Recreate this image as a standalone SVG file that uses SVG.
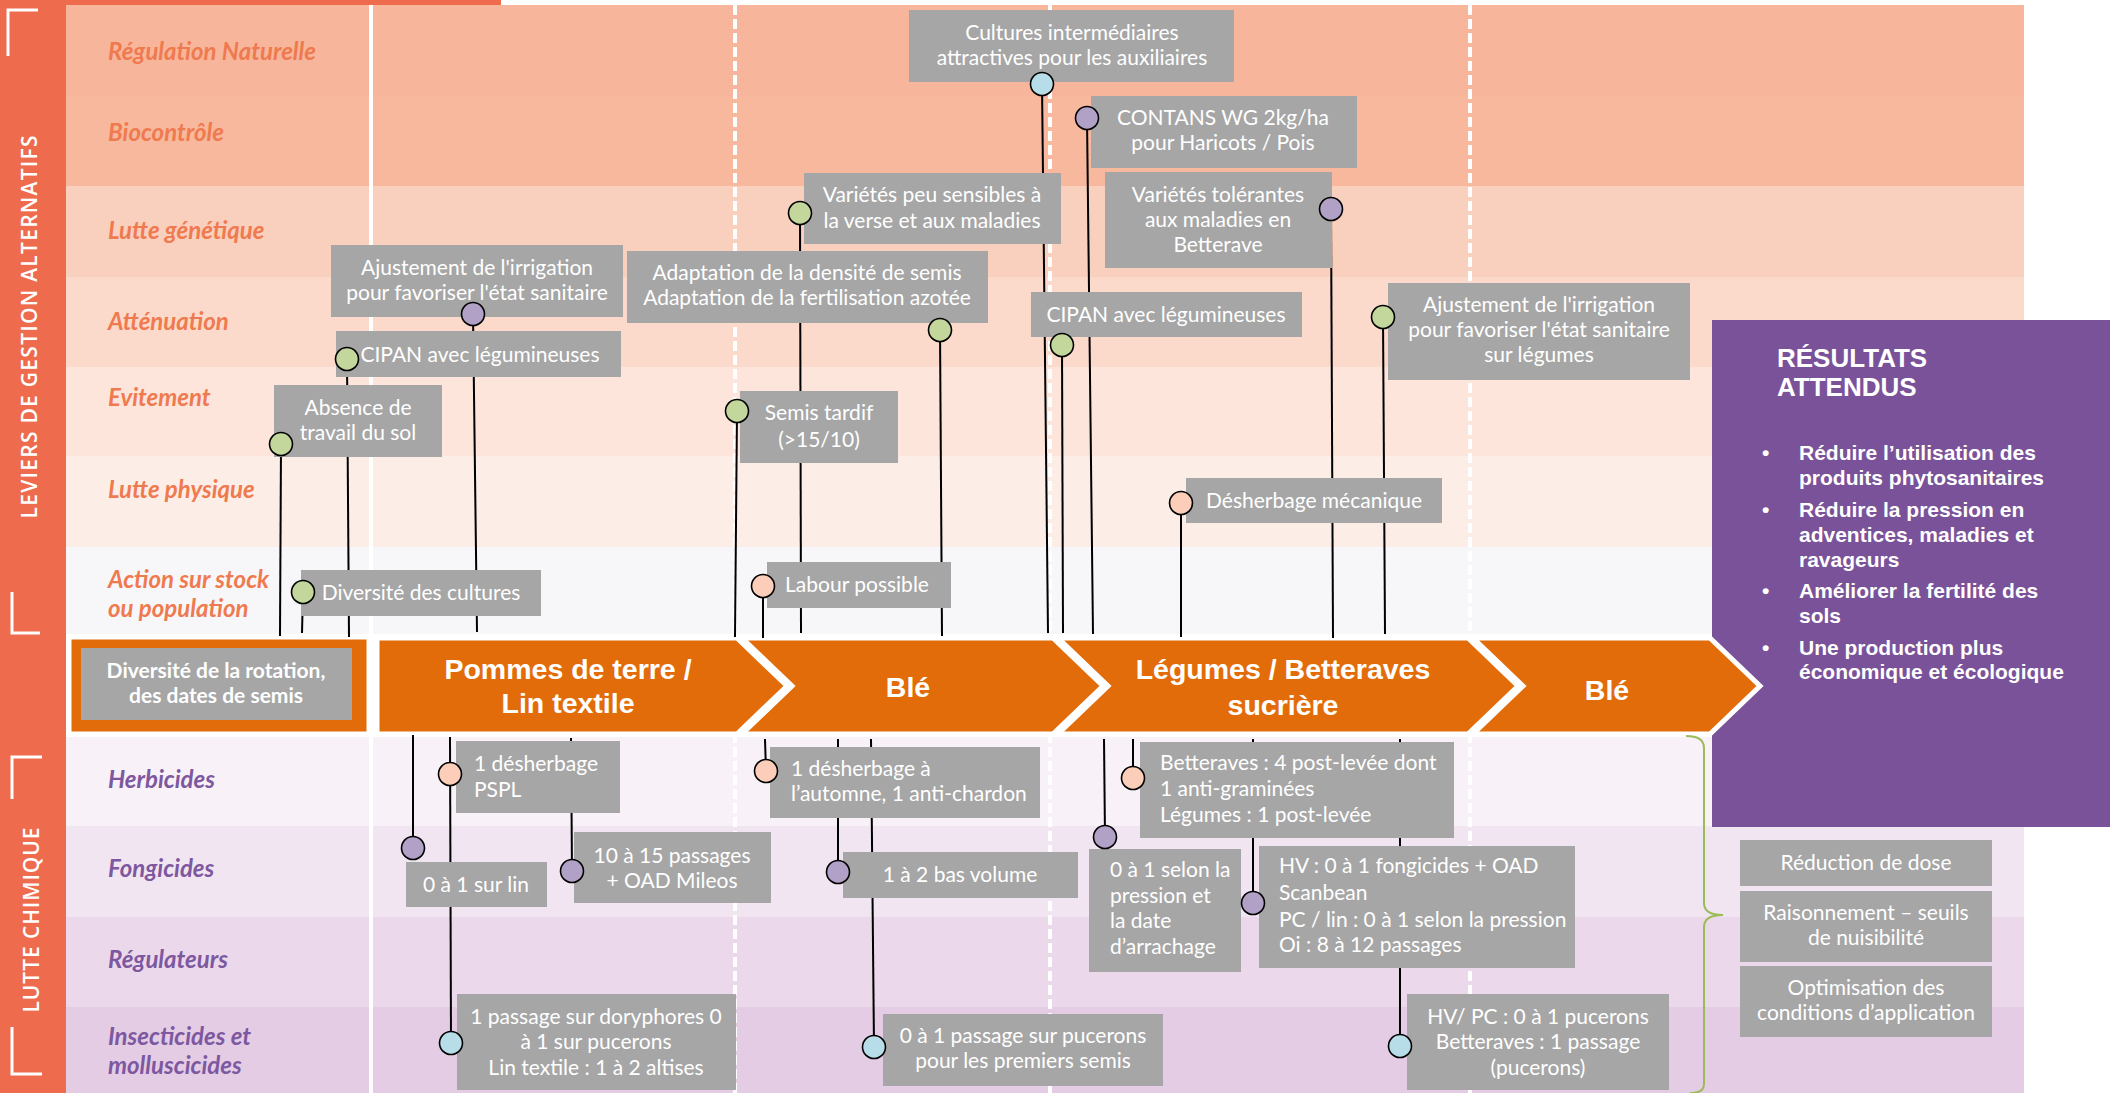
<svg xmlns="http://www.w3.org/2000/svg" width="2110" height="1093" viewBox="0 0 2110 1093">
<defs>
<style>
.lab{font-family:Lato,"Liberation Sans",sans-serif;font-style:italic;font-weight:bold;font-size:24px}
.lu{fill:#EF7A4F}
.ll{fill:#7D58A0}
.box{fill:#A6A6A6}
.bt{font-family:Lato,"Liberation Sans",sans-serif;font-size:21px;fill:#fff}
.c{text-anchor:middle}
.dot{stroke:#000;stroke-width:1.6}
.g{fill:#C3D69B}
.p{fill:#B2A1C7}
.b{fill:#B7DEE8}
.s{fill:#FCCDB8}
.conn line{stroke:#000;stroke-width:2}
.chev{fill:#E36C0A;stroke:#fff;stroke-width:5}
.ct{font-family:"Liberation Sans",Arial,sans-serif;font-weight:bold;font-size:28.5px;fill:#fff;text-anchor:middle}
.sep{stroke:#fff;stroke-width:4}
.dash{stroke-dasharray:10 4}
.side{font-family:"Open Sans","Liberation Sans",sans-serif;font-weight:600;font-size:21px;fill:#fff;text-anchor:middle}
.corner{fill:none;stroke:#fff;stroke-width:3}
.res{font-family:"Liberation Sans",Arial,sans-serif;font-weight:bold;fill:#fff}
</style>
</defs>

<g id="background">
<rect x="0" y="0" width="2110" height="1093" fill="#fff"/>
<rect x="66" y="5" width="1958" height="91" fill="#F7B69B"/>
<rect x="66" y="96" width="1958" height="90" fill="#F8B89D"/>
<rect x="66" y="186" width="1958" height="91" fill="#F9CFBD"/>
<rect x="66" y="277" width="1958" height="90" fill="#FBDACB"/>
<rect x="66" y="367" width="1958" height="89" fill="#FDE5DC"/>
<rect x="66" y="456" width="1958" height="91" fill="#FCEEE7"/>
<rect x="66" y="547" width="1958" height="87" fill="#F7F7F9"/>
<rect x="66" y="737" width="1958" height="89" fill="#F8F1F7"/>
<rect x="66" y="826" width="1958" height="91" fill="#F2E5F2"/>
<rect x="66" y="917" width="1958" height="90" fill="#EBD9EB"/>
<rect x="66" y="1007" width="1958" height="86" fill="#E4CCE4"/>
<rect x="0" y="0" width="66" height="1093" fill="#EE6B4D"/>
<rect x="0" y="0" width="501" height="5" fill="#EE6B4D"/>
<line class="sep" x1="371" y1="5" x2="371" y2="1093"/>
<line class="sep dash" x1="735" y1="5" x2="735" y2="1093"/>
<line class="sep dash" x1="1050" y1="5" x2="1050" y2="1093"/>
<line class="sep dash" x1="1470" y1="5" x2="1470" y2="1093"/>
<rect x="66" y="634" width="1646" height="103" fill="#fff"/>
</g>

<g id="side-labels">
<text class="side" transform="translate(37,327) rotate(-90)" textLength="383" lengthAdjust="spacing">LEVIERS DE GESTION ALTERNATIFS</text>
<path class="corner" d="M8,56 V10 H38"/>
<path class="corner" d="M12,592 V633 H40"/>
<text class="side" transform="translate(39,920) rotate(-90)" textLength="185" lengthAdjust="spacing">LUTTE CHIMIQUE</text>
<path class="corner" d="M12,799 V757 H42"/>
<path class="corner" d="M12,1027 V1074 H42"/>
</g>

<g id="row-labels" class="lab">
<text class="lu" x="108" y="60">Régulation Naturelle</text>
<text class="lu" x="108" y="141">Biocontrôle</text>
<text class="lu" x="108" y="239">Lutte génétique</text>
<text class="lu" x="108" y="330">Atténuation</text>
<text class="lu" x="108" y="406">Evitement</text>
<text class="lu" x="108" y="498">Lutte physique</text>
<text class="lu" x="108" y="588">Action sur stock</text>
<text class="lu" x="108" y="617">ou population</text>
<text class="ll" x="108" y="788">Herbicides</text>
<text class="ll" x="108" y="877">Fongicides</text>
<text class="ll" x="108" y="968">Régulateurs</text>
<text class="ll" x="108" y="1045">Insecticides et</text>
<text class="ll" x="108" y="1074">molluscicides</text>
</g>

<g id="resultats">
<rect x="1712" y="320" width="398" height="507" fill="#7A5299"/>
<text class="res" font-size="26" x="1777" y="367">RÉSULTATS</text>
<text class="res" font-size="26" x="1777" y="396">ATTENDUS</text>
<g class="res" font-size="21">
<text x="1762" y="460">•</text>
<text x="1799" y="460">Réduire l’utilisation des</text>
<text x="1799" y="485">produits phytosanitaires</text>
<text x="1762" y="517">•</text>
<text x="1799" y="517">Réduire la pression en</text>
<text x="1799" y="542">adventices, maladies et</text>
<text x="1799" y="567">ravageurs</text>
<text x="1762" y="598">•</text>
<text x="1799" y="598">Améliorer la fertilité des</text>
<text x="1799" y="623">sols</text>
<text x="1762" y="655">•</text>
<text x="1799" y="655">Une production plus</text>
<text x="1799" y="679">économique et écologique</text>
</g>
</g>

<g id="timeline">
<g id="rotation">
<rect x="70" y="638" width="298" height="95" fill="#E36C0A" stroke="#fff" stroke-width="3"/>
<rect x="81" y="648" width="271" height="72" class="box"/>
<text class="bt c" font-weight="bold" x="216"><tspan x="216" y="678">Diversité de la rotation,</tspan><tspan x="216" y="703">des dates de semis</tspan></text>
</g>
<g id="pommes">
<path class="chev" d="M377,638 H737 L787,686 L737,734 H377 Z"/>
<text class="ct"><tspan x="568" y="679">Pommes de terre /</tspan><tspan x="568" y="713">Lin textile</tspan></text>
</g>
<g id="ble1">
<path class="chev" d="M742,638 H1053 L1103,686 L1053,734 H742 L792,686 Z"/>
<text class="ct" x="908" y="697">Blé</text>
</g>
<g id="legumes">
<path class="chev" d="M1058,638 H1468 L1518,686 L1468,734 H1058 L1108,686 Z"/>
<text class="ct"><tspan x="1283" y="679">Légumes / Betteraves</tspan><tspan x="1283" y="715">sucrière</tspan></text>
</g>
<g id="ble2">
<path class="chev" d="M1473,638 H1710 L1760,686 L1710,734 H1473 L1523,686 Z"/>
<text class="ct" x="1607" y="700">Blé</text>
</g>
</g>

<g id="connectors" class="conn">
<line x1="281" y1="444" x2="280" y2="636"/>
<line x1="347" y1="359" x2="349" y2="637"/>
<line x1="303" y1="592" x2="302" y2="633"/>
<line x1="473" y1="314" x2="477" y2="632"/>
<line x1="737" y1="411" x2="735" y2="637"/>
<line x1="763" y1="586" x2="763" y2="638"/>
<line x1="800" y1="213" x2="801" y2="633"/>
<line x1="940" y1="330" x2="942" y2="636"/>
<line x1="1042" y1="84" x2="1048" y2="633"/>
<line x1="1062" y1="345" x2="1063" y2="633"/>
<line x1="1087" y1="118" x2="1093" y2="634"/>
<line x1="1181" y1="503" x2="1181" y2="637"/>
<line x1="1331" y1="209" x2="1333" y2="638"/>
<line x1="1383" y1="317" x2="1385" y2="634"/>
<line x1="413" y1="735" x2="413" y2="848"/>
<line x1="450" y1="737" x2="451" y2="1043"/>
<line x1="571" y1="738" x2="572" y2="871"/>
<line x1="765" y1="739" x2="766" y2="771"/>
<line x1="838" y1="739" x2="838" y2="872"/>
<line x1="871" y1="739" x2="874" y2="1047"/>
<line x1="1104" y1="739" x2="1105" y2="837"/>
<line x1="1133" y1="739" x2="1133" y2="778"/>
<line x1="1253" y1="739" x2="1253" y2="903"/>
<line x1="1400" y1="739" x2="1400" y2="1046"/>
<path d="M1686,736 Q1704,736 1704,748 L1704,903 Q1704,915 1723,915 Q1704,915 1704,927 L1704,1084 Q1704,1093 1690,1093" fill="none" stroke="#9BBB59" stroke-width="2"/>
</g>

<g id="n-cultures">
<rect class="box" x="909" y="10" width="325" height="72"/>
<text class="bt c"><tspan x="1072" y="40">Cultures intermédiaires</tspan><tspan x="1072" y="65">attractives pour les auxiliaires</tspan></text>
<circle class="dot b" cx="1042" cy="84" r="11.5"/>
</g>
<g id="n-contans">
<rect class="box" x="1091" y="96" width="266" height="72"/>
<text class="bt c"><tspan x="1223" y="125">CONTANS WG 2kg/ha</tspan><tspan x="1223" y="150">pour Haricots / Pois</tspan></text>
<circle class="dot p" cx="1087" cy="118" r="11.5"/>
</g>
<g id="n-varietes-peu">
<rect class="box" x="804" y="173" width="257" height="71"/>
<text class="bt c"><tspan x="932" y="202">Variétés peu sensibles à</tspan><tspan x="932" y="228">la verse et aux maladies</tspan></text>
<circle class="dot g" cx="800" cy="213" r="11.5"/>
</g>
<g id="n-varietes-tol">
<rect class="box" x="1105" y="172" width="227" height="96"/>
<text class="bt c"><tspan x="1218" y="202">Variétés tolérantes</tspan><tspan x="1218" y="227">aux maladies en</tspan><tspan x="1218" y="252">Betterave</tspan></text>
<circle class="dot p" cx="1331" cy="209" r="11.5"/>
</g>
<g id="n-ajust-1">
<rect class="box" x="331" y="245" width="292" height="72"/>
<text class="bt c"><tspan x="477" y="275">Ajustement de l'irrigation</tspan><tspan x="477" y="300">pour favoriser l'état sanitaire</tspan></text>
<circle class="dot p" cx="473" cy="314" r="11.5"/>
</g>
<g id="n-adaptation">
<rect class="box" x="627" y="251" width="361" height="72"/>
<text class="bt c"><tspan x="807" y="280">Adaptation de la densité de semis</tspan><tspan x="807" y="305">Adaptation de la fertilisation azotée</tspan></text>
<circle class="dot g" cx="940" cy="330" r="11.5"/>
</g>
<g id="n-cipan-1">
<rect class="box" x="336" y="331" width="285" height="46"/>
<text class="bt c" x="480" y="362">CIPAN avec légumineuses</text>
<circle class="dot g" cx="347" cy="359" r="11.5"/>
</g>
<g id="n-cipan-2">
<rect class="box" x="1031" y="292" width="271" height="45"/>
<text class="bt c" x="1166" y="322">CIPAN avec légumineuses</text>
<circle class="dot g" cx="1062" cy="345" r="11.5"/>
</g>
<g id="n-ajust-2">
<rect class="box" x="1388" y="283" width="302" height="97"/>
<text class="bt c"><tspan x="1539" y="312">Ajustement de l'irrigation</tspan><tspan x="1539" y="337">pour favoriser l'état sanitaire</tspan><tspan x="1539" y="362">sur légumes</tspan></text>
<circle class="dot g" cx="1383" cy="317" r="11.5"/>
</g>
<g id="n-absence">
<rect class="box" x="274" y="385" width="168" height="72"/>
<text class="bt c"><tspan x="358" y="415">Absence de</tspan><tspan x="358" y="440">travail du sol</tspan></text>
<circle class="dot g" cx="281" cy="444" r="11.5"/>
</g>
<g id="n-semis-tardif">
<rect class="box" x="740" y="391" width="158" height="72"/>
<text class="bt c"><tspan x="819" y="420">Semis tardif</tspan><tspan x="819" y="447">(&gt;15/10)</tspan></text>
<circle class="dot g" cx="737" cy="411" r="11.5"/>
</g>
<g id="n-desherbage-meca">
<rect class="box" x="1186" y="478" width="256" height="45"/>
<text class="bt c" x="1314" y="508">Désherbage mécanique</text>
<circle class="dot s" cx="1181" cy="503" r="11.5"/>
</g>
<g id="n-diversite">
<rect class="box" x="301" y="570" width="240" height="46"/>
<text class="bt c" x="421" y="600">Diversité des cultures</text>
<circle class="dot g" cx="303" cy="592" r="11.5"/>
</g>
<g id="n-labour">
<rect class="box" x="767" y="562" width="184" height="46"/>
<text class="bt c" x="857" y="592">Labour possible</text>
<circle class="dot s" cx="763" cy="586" r="11.5"/>
</g>

<g id="m-pspl">
<rect class="box" x="456" y="741" width="164" height="72"/>
<text class="bt"><tspan x="474" y="771">1 désherbage</tspan><tspan x="474" y="797">PSPL</tspan></text>
<circle class="dot s" cx="450" cy="774" r="11.5"/>
</g>
<g id="m-lin">
<rect class="box" x="406" y="862" width="141" height="45"/>
<text class="bt c" x="476" y="892">0 à 1 sur lin</text>
<circle class="dot p" cx="413" cy="848" r="11.5"/>
</g>
<g id="m-mileos">
<rect class="box" x="574" y="832" width="197" height="71"/>
<text class="bt c"><tspan x="672" y="863">10 à 15 passages</tspan><tspan x="672" y="888">+ OAD Mileos</tspan></text>
<circle class="dot p" cx="572" cy="871" r="11.5"/>
</g>
<g id="m-doryphores">
<rect class="box" x="457" y="994" width="279" height="96"/>
<text class="bt c"><tspan x="596" y="1024">1 passage sur doryphores 0</tspan><tspan x="596" y="1049">à 1 sur pucerons</tspan><tspan x="596" y="1075">Lin textile : 1 à 2 altises</tspan></text>
<circle class="dot b" cx="451" cy="1043" r="11.5"/>
</g>
<g id="m-automne">
<rect class="box" x="770" y="747" width="270" height="71"/>
<text class="bt"><tspan x="791" y="776">1 désherbage à</tspan><tspan x="791" y="801">l’automne, 1 anti-chardon</tspan></text>
<circle class="dot s" cx="766" cy="771" r="11.5"/>
</g>
<g id="m-bas-volume">
<rect class="box" x="843" y="852" width="235" height="46"/>
<text class="bt c" x="960" y="882">1 à 2 bas volume</text>
<circle class="dot p" cx="838" cy="872" r="11.5"/>
</g>
<g id="m-pucerons-semis">
<rect class="box" x="883" y="1014" width="280" height="72"/>
<text class="bt c"><tspan x="1023" y="1043">0 à 1 passage sur pucerons</tspan><tspan x="1023" y="1068">pour les premiers semis</tspan></text>
<circle class="dot b" cx="874" cy="1047" r="11.5"/>
</g>
<g id="m-arrachage">
<rect class="box" x="1089" y="849" width="152" height="123"/>
<text class="bt"><tspan x="1110" y="877">0 à 1 selon la</tspan><tspan x="1110" y="903">pression et</tspan><tspan x="1110" y="928">la date</tspan><tspan x="1110" y="954">d’arrachage</tspan></text>
<circle class="dot p" cx="1105" cy="837" r="11.5"/>
</g>
<g id="m-betteraves">
<rect class="box" x="1140" y="742" width="314" height="96"/>
<text class="bt"><tspan x="1160" y="770">Betteraves : 4 post-levée dont</tspan><tspan x="1160" y="796">1 anti-graminées</tspan><tspan x="1160" y="822">Légumes : 1 post-levée</tspan></text>
<circle class="dot s" cx="1133" cy="778" r="11.5"/>
</g>
<g id="m-scanbean">
<rect class="box" x="1259" y="846" width="316" height="122"/>
<text class="bt"><tspan x="1279" y="873">HV : 0 à 1 fongicides + OAD</tspan><tspan x="1279" y="900">Scanbean</tspan><tspan x="1279" y="927">PC / lin : 0 à 1 selon la pression</tspan><tspan x="1279" y="952">Oi : 8 à 12 passages</tspan></text>
<circle class="dot p" cx="1253" cy="903" r="11.5"/>
</g>
<g id="m-hv-pc">
<rect class="box" x="1407" y="994" width="262" height="96"/>
<text class="bt c"><tspan x="1538" y="1024">HV/ PC : 0 à 1 pucerons</tspan><tspan x="1538" y="1049">Betteraves : 1 passage</tspan><tspan x="1538" y="1075">(pucerons)</tspan></text>
<circle class="dot b" cx="1400" cy="1046" r="11.5"/>
</g>

<g id="r-reduction">
<rect class="box" x="1740" y="840" width="252" height="46"/>
<text class="bt c" x="1866" y="870">Réduction de dose</text>
</g>
<g id="r-raisonnement">
<rect class="box" x="1740" y="891" width="252" height="71"/>
<text class="bt c"><tspan x="1866" y="920">Raisonnement – seuils</tspan><tspan x="1866" y="945">de nuisibilité</tspan></text>
</g>
<g id="r-optimisation">
<rect class="box" x="1740" y="966" width="252" height="71"/>
<text class="bt c"><tspan x="1866" y="995">Optimisation des</tspan><tspan x="1866" y="1020">conditions d’application</tspan></text>
</g>
</svg>
